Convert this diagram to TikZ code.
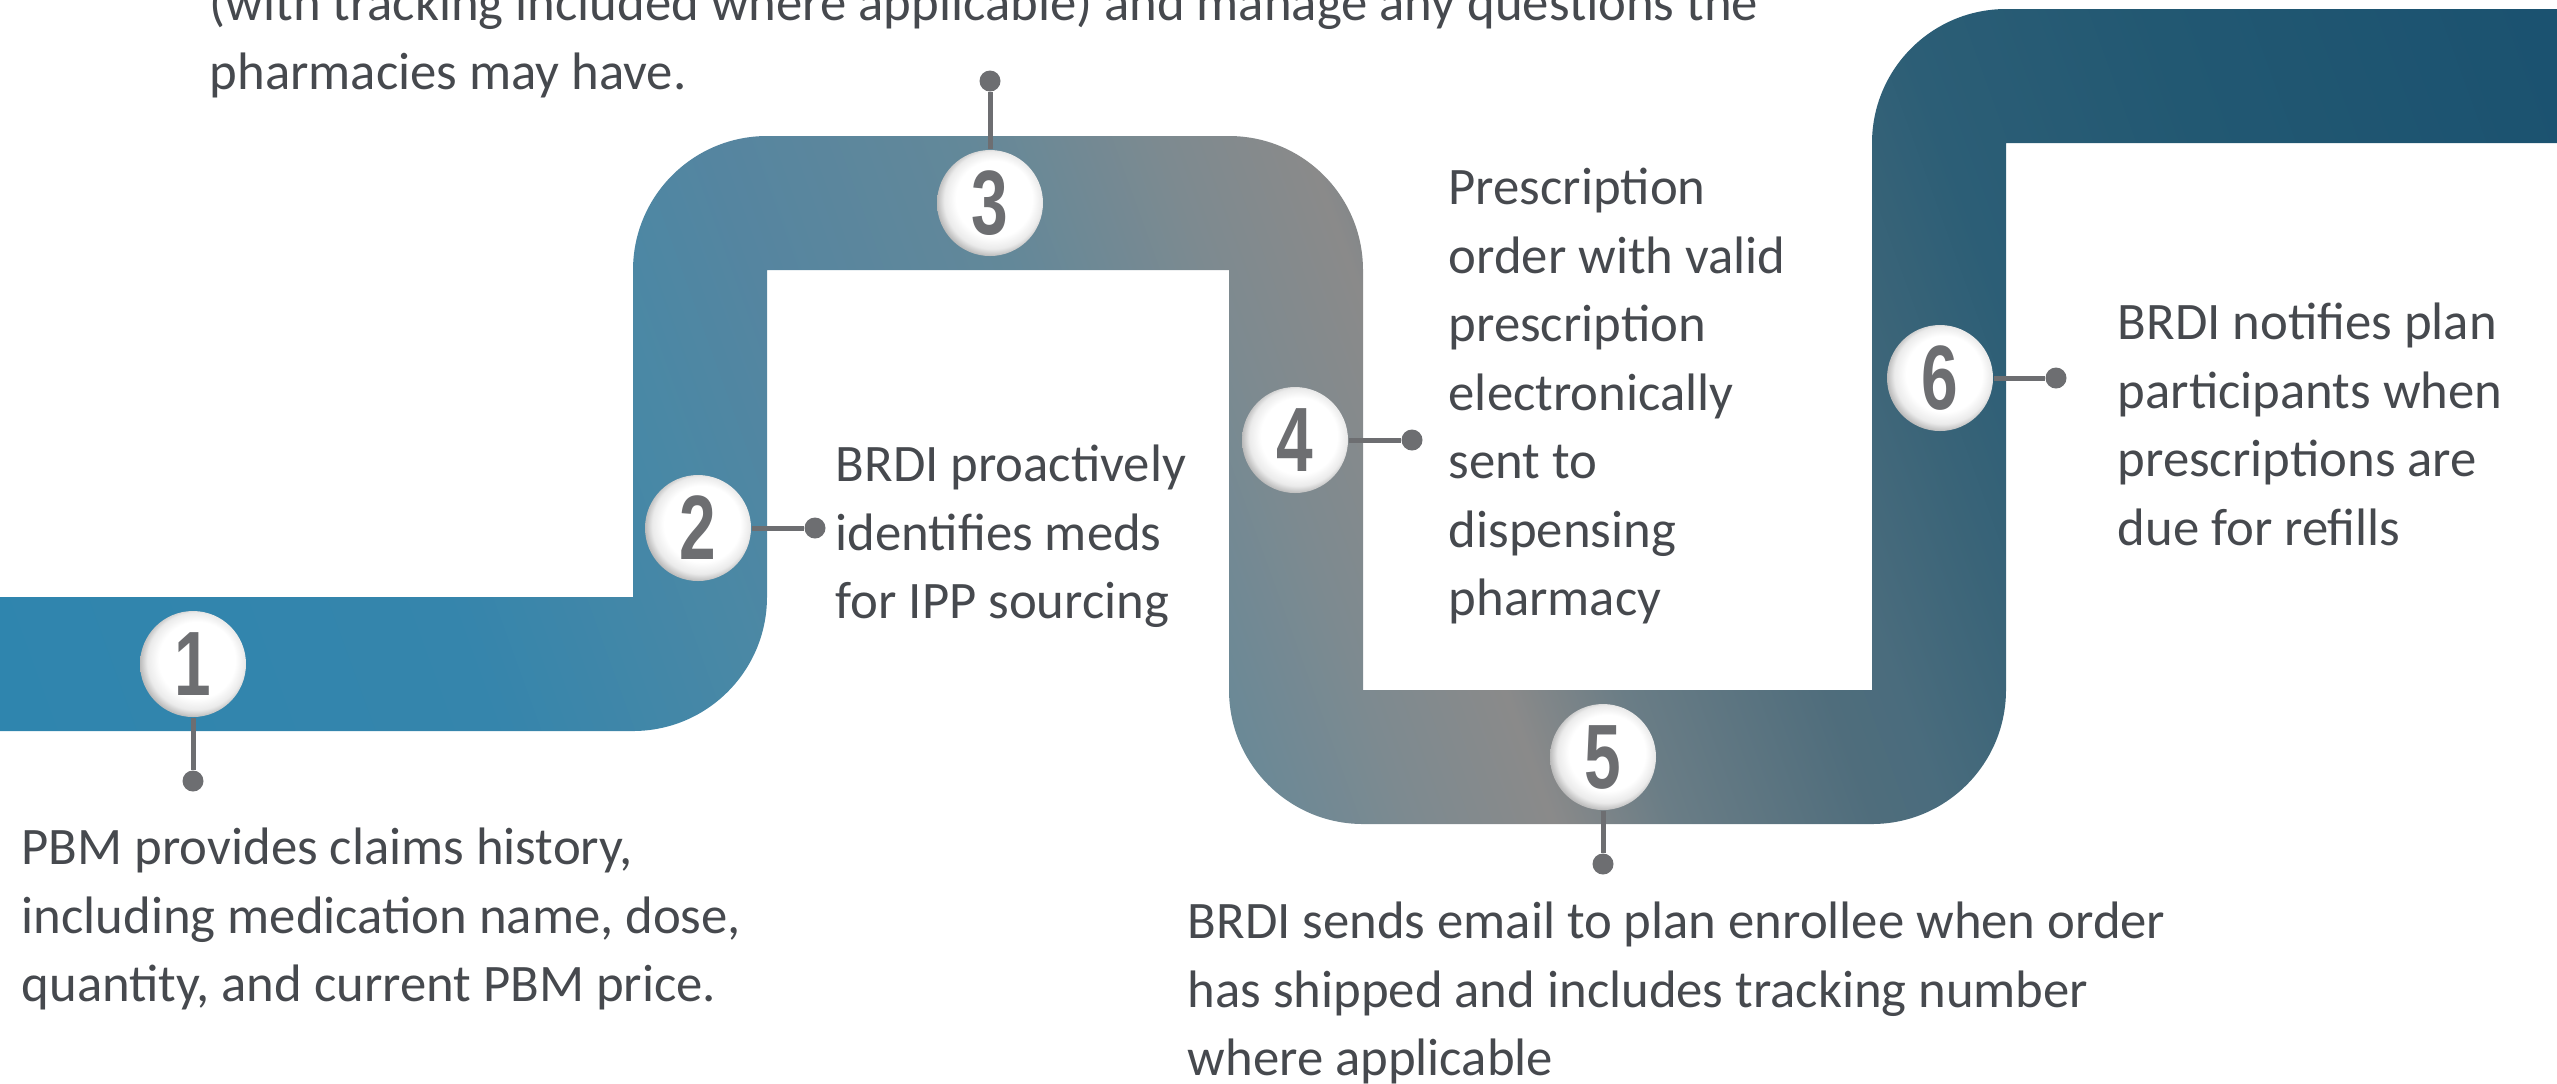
\documentclass[tikz,border=0pt]{standalone}
\usepackage{fontspec}
\usepackage{graphicx}
\setmainfont{Carlito}
\newfontfamily\digitfont{Liberation Sans}
\definecolor{pintone}{HTML}{6D6E71}
\definecolor{texttone}{HTML}{46494E}
\definecolor{bandA}{HTML}{2F85AE}
\definecolor{bandB}{HTML}{3585AC}
\definecolor{bandC}{HTML}{4A88A5}
\definecolor{bandD}{HTML}{5585A0}
\definecolor{bandE}{HTML}{638899}
\definecolor{bandF}{HTML}{7D8A90}
\definecolor{bandG}{HTML}{8A8A8A}
\definecolor{bandH}{HTML}{6A7D86}
\definecolor{bandI}{HTML}{4F6D7C}
\definecolor{bandJ}{HTML}{4A6C7D}
\definecolor{bandK}{HTML}{3A6478}
\definecolor{bandL}{HTML}{2C5E76}
\definecolor{bandM}{HTML}{225872}
\definecolor{bandN}{HTML}{1B5270}
\pgfdeclarehorizontalshading{bandfade}{100bp}{color(0bp)=(bandA); color(27.7bp)=(bandA); color(35.7bp)=(bandB); color(40.4bp)=(bandC); color(42.9bp)=(bandD); color(47.2bp)=(bandE); color(50.5bp)=(bandF); color(52.9bp)=(bandG); color(54.9bp)=(bandH); color(58.3bp)=(bandI); color(59.5bp)=(bandJ); color(61.6bp)=(bandK); color(63.6bp)=(bandL); color(67.9bp)=(bandM); color(74.3bp)=(bandN); color(100bp)=(bandN)}
\pgfdeclareradialshading{ballshade}{\pgfpoint{4bp}{4bp}}{color(0bp)=(white); color(18bp)=(white); color(23bp)=(black!8); color(28bp)=(black!38); color(35bp)=(black!38)}
\newcommand{\stepdigit}[1]{\scalebox{0.72}[1]{\digitfont\bfseries #1}}

\begin{document}
\begin{tikzpicture}[x=0.1mm, y=-0.1mm,
    badge/.style={circle, minimum size=10.6mm, inner sep=0pt, shading=ballshade, text=pintone, font=\fontsize{26}{26}\selectfont},
    pinend/.style={circle, fill=pintone, minimum size=2.1mm, inner sep=0pt},
    pin/.style={draw=pintone, line width=0.5mm},
    caption/.style={anchor=north west, align=left, inner sep=0pt, text=texttone, font=\fontsize{15}{19.5}\selectfont}]
    \useasboundingbox (0,0) rectangle (2557,1083);
    \clip (0,0) rectangle (2557,1083);
    \begin{scope}
      \clip (0,597) -- (633,597) -- (633,270) arc[start angle=180, end angle=90, radius=13.4mm]
        -- (1229,136) arc[start angle=90, end angle=0, radius=13.4mm]
        -- (1363,690) -- (1872,690) -- (1872,143) arc[start angle=180, end angle=90, radius=13.4mm]
        -- (2557,9) -- (2557,143) -- (2006,143) -- (2006,690) arc[start angle=0, end angle=-90, radius=13.4mm]
        -- (1363,824) arc[start angle=-90, end angle=-180, radius=13.4mm]
        -- (1229,270) -- (767,270) -- (767,597) arc[start angle=0, end angle=-90, radius=13.4mm]
        -- (0,731) -- cycle;
      \begin{scope}[transform canvas={rotate around={20:(1278,541)}}]
        \shade[shading=bandfade] (-122,-1000) rectangle (2678,2100);
      \end{scope}
    \end{scope}
    \node [badge] (b1) at (193,664) {\stepdigit{1}};
    \node [badge] (b2) at (698,528) {\stepdigit{2}};
    \node [badge] (b3) at (990,203) {\stepdigit{3}};
    \node [badge] (b4) at (1295,440) {\stepdigit{4}};
    \node [badge] (b5) at (1603,757) {\stepdigit{5}};
    \node [badge] (b6) at (1940,378) {\stepdigit{6}};
    \node [pinend] (d1) at (193,781) {};
    \node [pinend] (d2) at (815,528) {};
    \node [pinend] (d3) at (990,81) {};
    \node [pinend] (d4) at (1412,440) {};
    \node [pinend] (d5) at (1603,864) {};
    \node [pinend] (d6) at (2056,378) {};
    \draw [pin] (d1) -- (b1);
    \draw [pin] (d2) -- (b2);
    \draw [pin] (d3) -- (b3);
    \draw [pin] (d4) -- (b4);
    \draw [pin] (d5) -- (b5);
    \draw [pin] (d6) -- (b6);
    \node [caption] (t1) at (21,816) {\strut PBM provides claims history,\\including medication name, dose,\\quantity, and current PBM price.};
    \node [caption] (t2) at (835,433) {\strut BRDI proactively\\identifies meds\\for IPP sourcing};
    \node [caption] (t3) at (209,-28) {\strut (with tracking included where applicable) and manage any questions the\\pharmacies may have.};
    \node [caption] (t4) at (1448,156) {\strut Prescription\\order with valid\\prescription\\electronically\\sent to\\dispensing\\pharmacy};
    \node [caption] (t5) at (1187,890) {\strut BRDI sends email to plan enrollee when order\\has shipped and includes tracking number\\where applicable};
    \node [caption] (t6) at (2117,291) {\strut BRDI notifies plan\\participants when\\prescriptions are\\due for refills};
\end{tikzpicture}
\end{document}
